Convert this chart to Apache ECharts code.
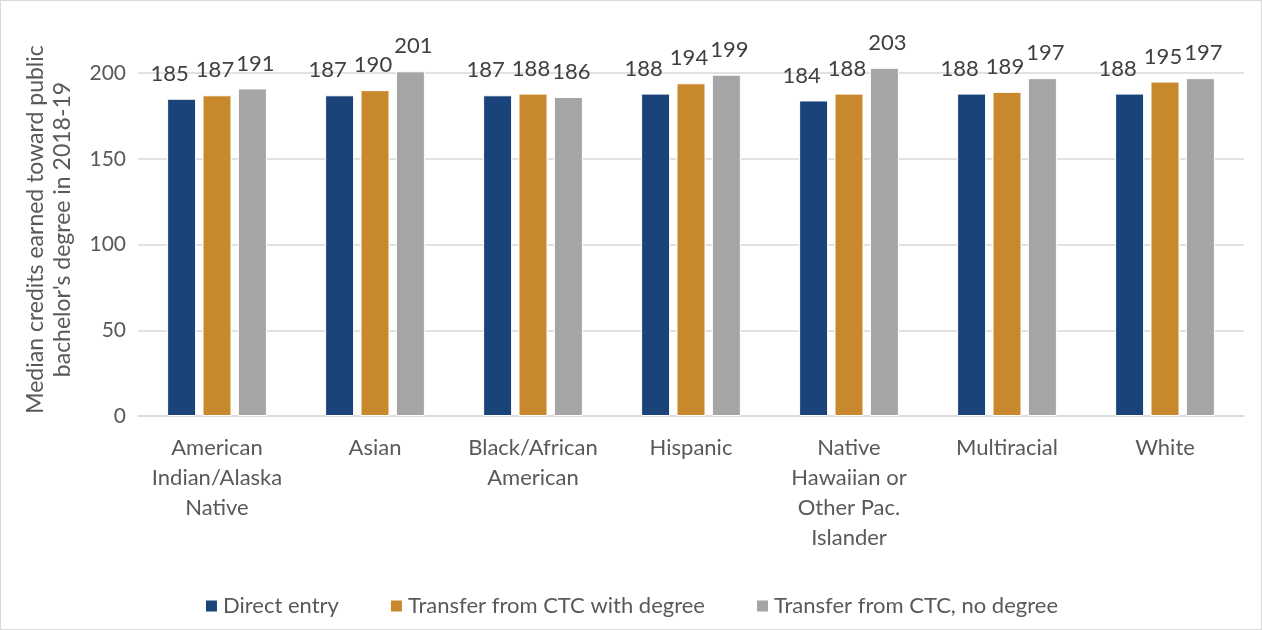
<!DOCTYPE html>
<html>
<head>
<meta charset="utf-8">
<script src="https://cdn.jsdelivr.net/npm/echarts@6/dist/echarts.min.js"></script>
<style>
  html, body { margin: 0; padding: 0; background: #fff; }
  #chart { width: 1262px; height: 630px; box-sizing: border-box; border: 1px solid #d9d9d9; }
</style>
</head>
<body>
<div id="chart"></div>
<script>
// Median credits by race/ethnicity and entry pathway
const categories = [
  'American\nIndian/Alaska\nNative',
  'Asian',
  'Black/African\nAmerican',
  'Hispanic',
  'Native\nHawaiian or\nOther Pac.\nIslander',
  'Multiracial',
  'White'
];
const directEntry = [185, 187, 187, 188, 184, 188, 188];
const ctcWithDegree = [187, 190, 188, 194, 188, 189, 195];
const ctcNoDegree = [191, 201, 186, 199, 203, 197, 197];
const seriesNames = ['Direct entry', 'Transfer from CTC with degree', 'Transfer from CTC, no degree'];
const colors = ['#1a4479', '#c8882c', '#a5a5a5'];

const font = 'Lato, "Open Sans", sans-serif';
const chart = echarts.init(document.getElementById('chart'));

// labels sit slightly apart horizontally so neighbouring numbers don't collide
function barSeries(name, data, color, labelShift) {
  return {
    name: name,
    type: 'bar',
    data: data,
    barWidth: 29,
    barGap: '22%',
    clip: false,
    itemStyle: { color: color, borderColor: '#ffffff', borderWidth: 1 },
    label: {
      show: true,
      position: 'top',
      distance: 14,
      offset: [labelShift, 0],
      fontFamily: font,
      fontSize: 22,
      color: '#404040'
    }
  };
}

chart.setOption({
  animation: false,
  textStyle: { fontFamily: font },
  grid: { left: 137, right: 17, top: 72, bottom: 213, containLabel: false, outerBoundsMode: 'none' },
  legend: {
    bottom: 7,
    left: 'center',
    itemWidth: 13,
    itemHeight: 13,
    itemGap: 50,
    icon: 'rect',
    textStyle: { fontFamily: font, fontSize: 22, color: '#595959' },
    data: seriesNames
  },
  xAxis: {
    type: 'category',
    data: categories,
    axisLine: { lineStyle: { color: '#d9d9d9', width: 1.5 } },
    axisTick: { show: false },
    axisLabel: {
      fontFamily: font,
      fontSize: 22,
      color: '#595959',
      lineHeight: 30,
      margin: 17,
      interval: 0
    }
  },
  yAxis: {
    type: 'value',
    min: 0,
    max: 200,
    interval: 50,
    name: "Median credits earned toward public\nbachelor's degree in 2018-19",
    nameLocation: 'middle',
    nameGap: 62,
    nameRotate: 90,
    nameTextStyle: { fontFamily: font, fontSize: 23, color: '#595959', lineHeight: 27, padding: [0, 0, 0, 30] },
    axisLine: { show: false },
    axisTick: { show: false },
    axisLabel: { fontFamily: font, fontSize: 21, color: '#595959', margin: 12 },
    splitLine: { lineStyle: { color: '#d9d9d9', width: 1.5 } }
  },
  series: [
    barSeries(seriesNames[0], directEntry, colors[0], -12),
    barSeries(seriesNames[1], ctcWithDegree, colors[1], -2),
    barSeries(seriesNames[2], ctcNoDegree, colors[2], 3)
  ]
});
</script>
</body>
</html>
